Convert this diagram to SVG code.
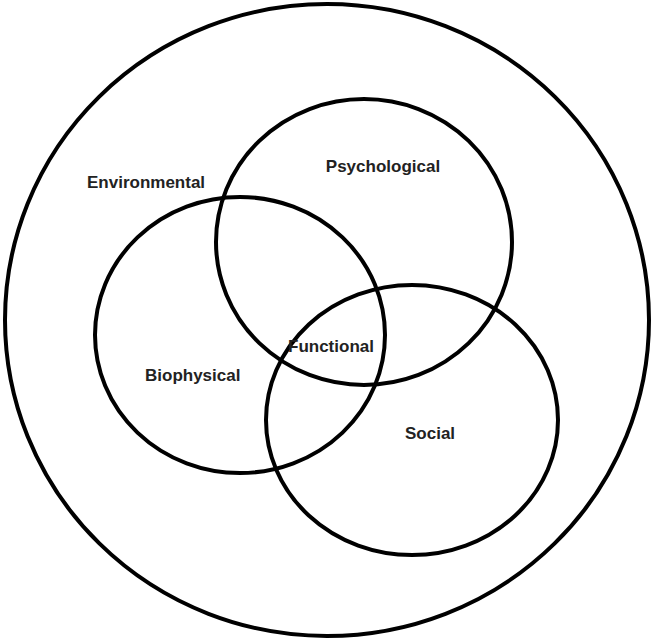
<svg xmlns="http://www.w3.org/2000/svg" width="654" height="641" viewBox="0 0 654 641">
  <style>
    .ring { fill: none; stroke: #000; stroke-width: 4; }
    .lbl { font-family: "Liberation Sans", Arial, Helvetica, sans-serif; font-weight: bold; font-size: 17px; fill: #222; }
  </style>
  <rect width="654" height="641" fill="#fff"/>
  <g id="environmental">
    <ellipse class="ring" cx="327" cy="320" rx="322" ry="316"/>
    <text class="lbl" x="87" y="188">Environmental</text>
  </g>
  <g id="psychological">
    <ellipse class="ring" cx="364" cy="242" rx="148" ry="143"/>
    <text class="lbl" x="383" y="172" text-anchor="middle">Psychological</text>
  </g>
  <g id="biophysical">
    <ellipse class="ring" cx="240" cy="335" rx="145" ry="138"/>
    <text class="lbl" x="145" y="381">Biophysical</text>
  </g>
  <g id="social">
    <ellipse class="ring" cx="412" cy="420" rx="146" ry="135"/>
    <text class="lbl" x="405" y="439">Social</text>
  </g>
  <g id="functional">
    <text class="lbl" x="288" y="352">Functional</text>
  </g>
  <g id="connectors"></g>
</svg>
